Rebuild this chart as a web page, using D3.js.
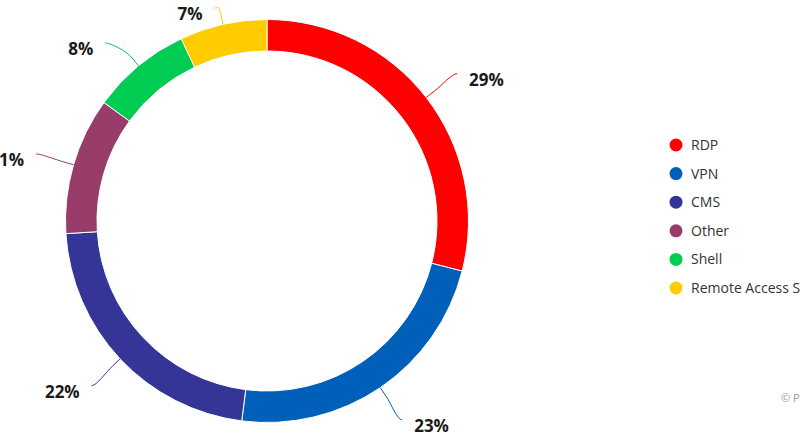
<!DOCTYPE html>
<html>
<head>
<meta charset="utf-8">
<script src="https://cdn.jsdelivr.net/npm/d3@7"></script>
<style>
	html, body { margin: 0; padding: 0; background: #fff; overflow: hidden; }
	svg { display: block; font-family: "Open Sans", sans-serif; }
</style>
</head>
<body>
<div id="chart"></div>
<script>
	var categories = ["RDP", "VPN", "CMS", "Other", "Shell", "Remote Access Software"];
	var shares = [29, 23, 22, 11, 8, 7];
	var colors = ["#ff0000", "#005fb8", "#343597", "#983d69", "#00cc52", "#ffcc00"];

	var WIDTH = 800, HEIGHT = 445;
	var CX = 267, CY = 221;
	var OUTER = 201.5, INNER = 170;
	var LABEL_DIST = 39, BREAK_DIST = 10, LABEL_GAP = 35, TOP_LIMIT = 8;

	var svg = d3.select("#chart").append("svg")
		.attr("width", WIDTH)
		.attr("height", HEIGHT);

	var data = categories.map(function (c, i) {
		return { name: c, value: shares[i], color: colors[i] };
	});

	var pie = d3.pie()
		.sort(null)
		.value(function (d) { return d.value; });

	var arcs = pie(data);

	var arc = d3.arc()
		.innerRadius(INNER)
		.outerRadius(OUTER);

	var center = svg.append("g")
		.attr("transform", "translate(" + CX + "," + CY + ")");

	center.selectAll("path.slice")
		.data(arcs)
		.enter().append("path")
		.attr("class", "slice")
		.attr("d", arc)
		.style("fill", function (d) { return d.data.color; })
		.style("stroke", "#fff")
		.style("stroke-width", 1);

	// label positions, in the manner of a pie with outside labels
	function polar(a, r) {
		return { x: Math.sin(a) * r, y: -Math.cos(a) * r };
	}

	var labels = arcs.map(function (d) {
		var mid = (d.startAngle + d.endAngle) / 2;
		var p = polar(mid, OUTER + LABEL_DIST);
		return {
			d: d,
			mid: mid,
			left: mid > Math.PI,
			x: p.x,
			y: Math.max(p.y, TOP_LIMIT - CY)
		};
	});

	// keep the labels of one side apart, sliding moved ones along the label circle
	[true, false].forEach(function (side) {
		var list = labels.filter(function (l) { return l.left === side; })
			.sort(function (a, b) { return a.y - b.y; });
		var R = OUTER + LABEL_DIST;
		for (var i = 1; i < list.length; i++) {
			if (list[i].y - list[i - 1].y < LABEL_GAP) {
				list[i].y = list[i - 1].y + LABEL_GAP;
				if (Math.abs(list[i].y) < R) {
					var dx = Math.sqrt(R * R - list[i].y * list[i].y);
					list[i].x = side ? -dx : dx;
				}
			}
		}
	});

	function connectorPath(l) {
		var touch = polar(l.mid, OUTER);
		var brk = polar(l.mid, OUTER + BREAK_DIST);
		var c1x = l.x + (l.left ? 5 : -5);
		return "M" + l.x + "," + l.y +
			"C" + c1x + "," + l.y + " " +
			(2 * brk.x - touch.x) + "," + (2 * brk.y - touch.y) + " " +
			brk.x + "," + brk.y +
			"L" + touch.x + "," + touch.y;
	}

	center.selectAll("path.connector")
		.data(labels)
		.enter().append("path")
		.attr("class", "connector")
		.attr("d", connectorPath)
		.style("fill", "none")
		.style("stroke", function (l) { return l.d.data.color; })
		.style("stroke-width", 1);

	center.selectAll("text.value")
		.data(labels)
		.enter().append("text")
		.attr("class", "value")
		.attr("x", function (l) { return l.x + (l.left ? -12 : 12); })
		.attr("y", function (l) { return l.y + 12; })
		.style("text-anchor", function (l) { return l.left ? "end" : "start"; })
		.style("font-size", "17px")
		.style("font-weight", "bold")
		.style("fill", "#1a1a1a")
		.text(function (l) { return l.d.data.value + "%"; });

	// legend
	var LEGEND_X = 676, LEGEND_Y = 145, LEGEND_STEP = 28.6;

	var legend = svg.append("g")
		.attr("transform", "translate(" + LEGEND_X + "," + LEGEND_Y + ")");

	var item = legend.selectAll("g.item")
		.data(data)
		.enter().append("g")
		.attr("class", "item")
		.attr("transform", function (d, i) { return "translate(0," + (i * LEGEND_STEP) + ")"; });

	item.append("circle")
		.attr("r", 6.5)
		.style("fill", function (d) { return d.color; });

	item.append("text")
		.attr("x", 15)
		.attr("dy", "0.35em")
		.style("font-size", "14px")
		.style("fill", "#333")
		.text(function (d) { return d.name; });

	svg.append("text")
		.attr("x", 781)
		.attr("y", 402)
		.style("font-size", "11px")
		.style("fill", "#999")
		.text("© Positive Technologies");
</script>
</body>
</html>
